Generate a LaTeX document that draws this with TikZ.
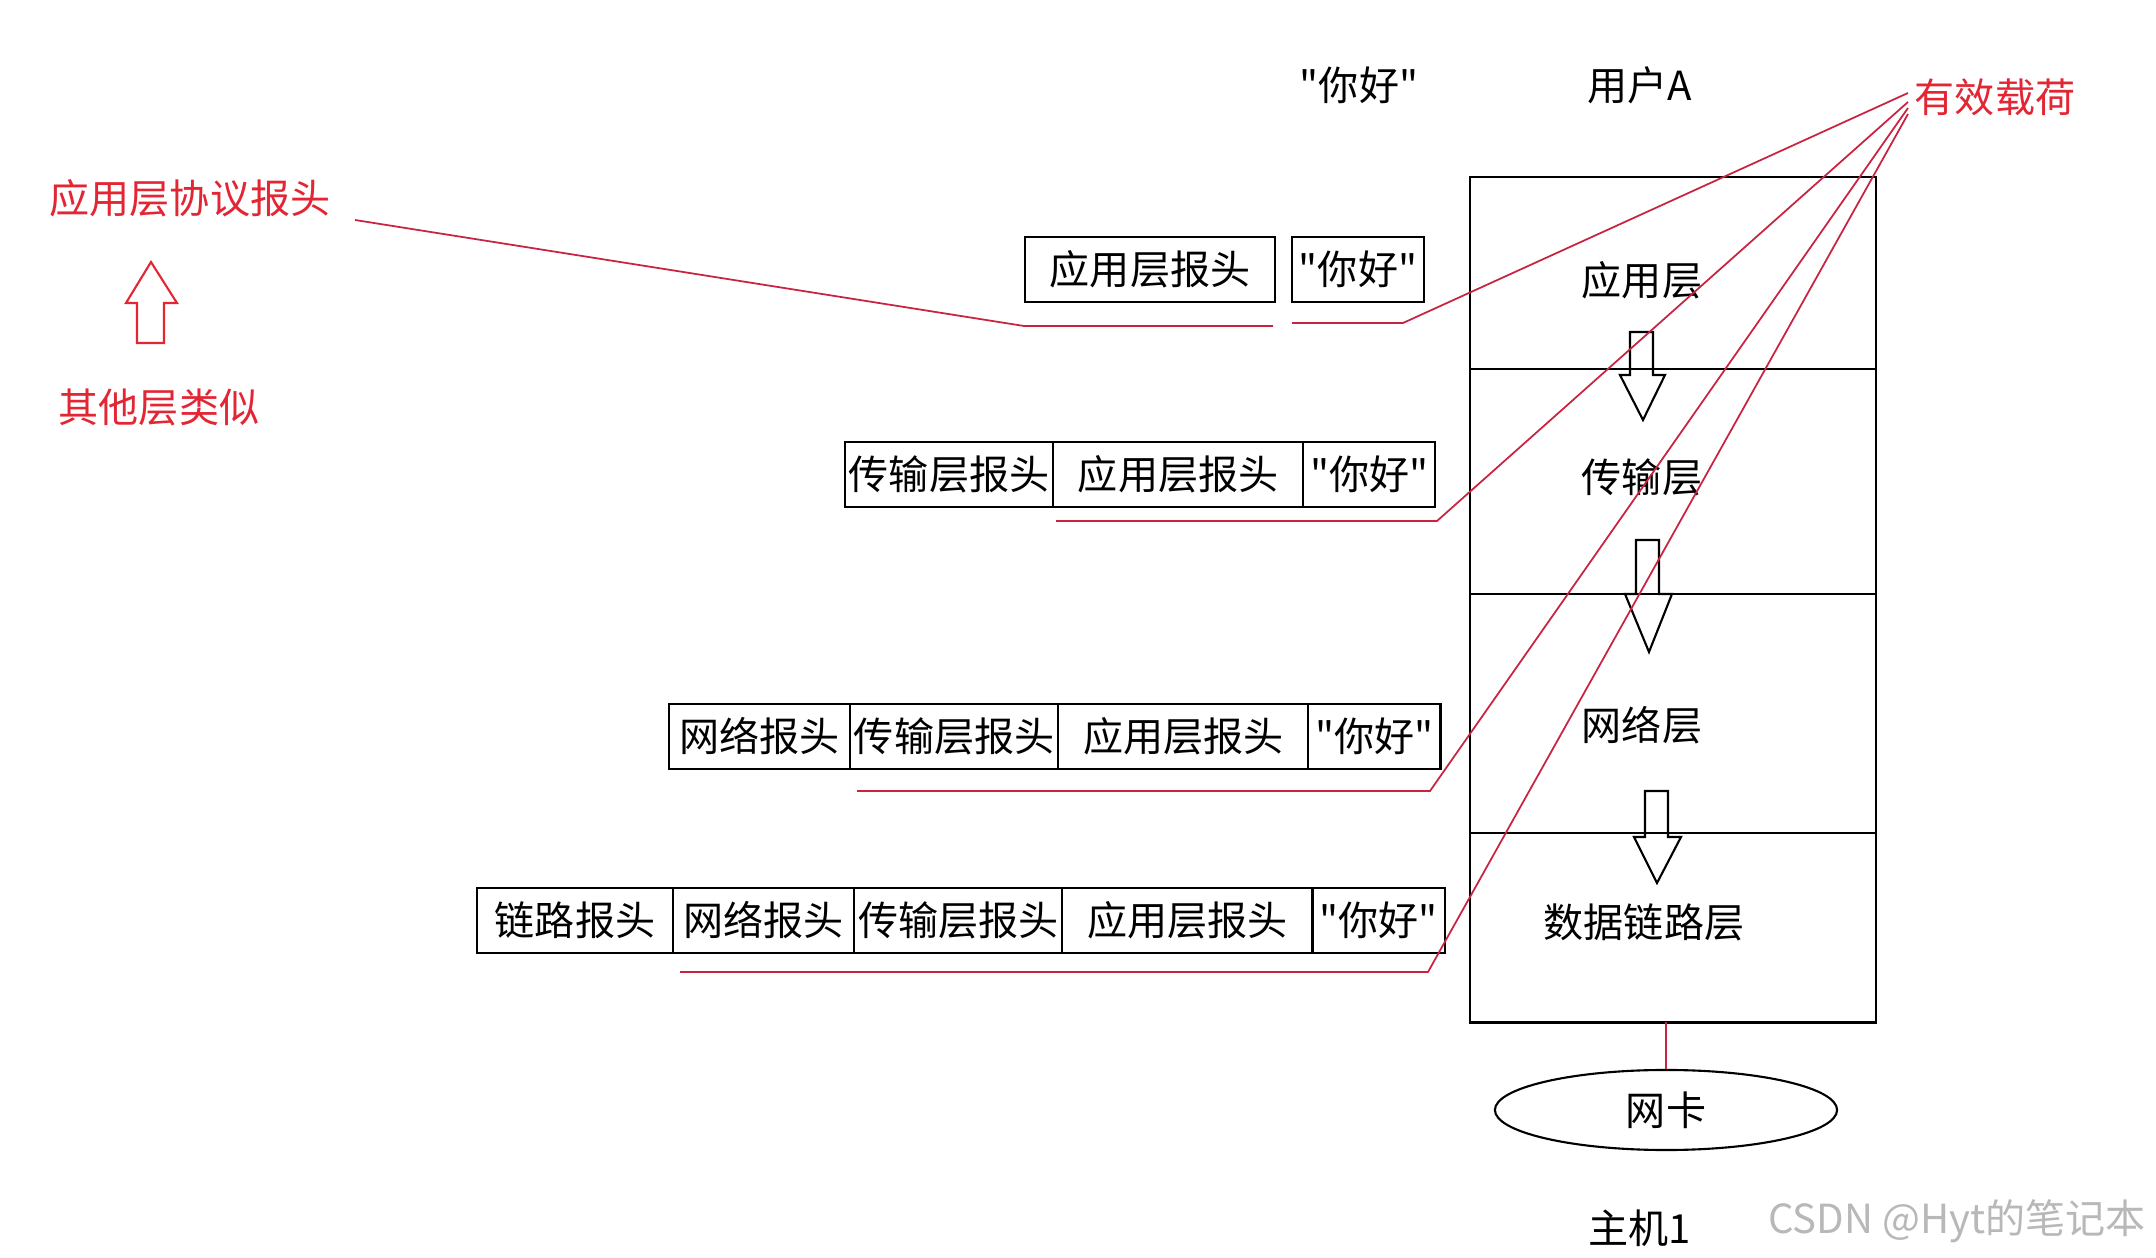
\documentclass[tikz,border=0pt]{standalone}
\usepackage{fontspec}
\setmainfont{Noto Sans CJK SC}[Ligatures=TeXOff]
\usetikzlibrary{positioning,shapes.geometric}
\definecolor{notered}{RGB}{226,38,52}
\definecolor{linered}{RGB}{200,36,66}
\tikzset{
  hdr/.style={draw, line width=0.6pt, minimum height=0.65cm, inner sep=0pt, outer sep=0pt, anchor=north west},
  wlink/.style={hdr, minimum width=1.96cm},
  wnet/.style={hdr, minimum width=1.81cm},
  wtrans/.style={hdr, minimum width=2.08cm},
  wapp/.style={hdr, minimum width=2.50cm},
  whello/.style={hdr, minimum width=1.32cm},
  layer/.style={draw, line width=0.6pt, minimum width=4.06cm, inner sep=0pt, outer sep=0pt, anchor=north west},
  note/.style={text=notered},
  redline/.style={draw=linered, line width=0.5pt},
  hollow/.style={draw, line width=0.6pt}
}

\begin{document}
\begin{tikzpicture}[x=0.01cm, y=-0.01cm, every node/.style={font=\fontsize{11.4pt}{13pt}\selectfont}]
  \useasboundingbox (0,0) rectangle (2156,1258);
  \node (hello) at (1359,85) {"你好"};
  \node (user) at (1640,85) {用户A};
  \node[note] (payload) at (1995,97) {有效载荷};
  \node[note] (proto) at (190,198) {应用层协议报头};
  \node[note] (other) at (159,407) {其他层类似};
  \draw[hollow, draw=notered] (137,343) -- (137,303) -- (126,303) -- (151,262) -- (177,303) -- (164,303) -- (164,343) -- cycle;

  \node[layer, minimum height=1.92cm] (app) at (1470,177) {};
  \node[layer, minimum height=2.25cm, below=0pt of app] (trans) {};
  \node[layer, minimum height=2.39cm, below=0pt of trans] (net) {};
  \node[layer, minimum height=1.89cm, below=0pt of net] (link) {};
  \node (appL) at (1642,280) {应用层};
  \node (transL) at (1642,477) {传输层};
  \node (netL) at (1642,725) {网络层};
  \node (linkL) at (1644,922) {数据链路层};
  \draw[hollow] (1630,332) -- (1630,375) -- (1620,375) -- (1643,420) -- (1665,375) -- (1653,375) -- (1653,332) -- cycle;
  \draw[hollow] (1636,540) -- (1636,594) -- (1625,594) -- (1649,652) -- (1672,594) -- (1659,594) -- (1659,540) -- cycle;
  \draw[hollow] (1645,791) -- (1645,837) -- (1634,837) -- (1657,883) -- (1681,837) -- (1668,837) -- (1668,791) -- cycle;
  \node[ellipse, draw, line width=0.6pt, minimum width=3.42cm, minimum height=0.8cm, inner sep=0pt] (nic) at (1666,1110) {网卡};
  \node (host) at (1640,1228) {主机1};
  \node[text=black!28] (wm) at (1957,1221) {CSDN @Hyt的笔记本};

  \node[wapp] (r1app) at (1025,237) {应用层报头};
  \node[whello] (r1hi) at (1292,237) {"你好"};

  \node[wtrans] (r2trans) at (845,442) {传输层报头};
  \node[wapp, right=0pt of r2trans] (r2app) {应用层报头};
  \node[whello, right=0pt of r2app] (r2hi) {"你好"};

  \node[wnet] (r3net) at (669,704) {网络报头};
  \node[wtrans, right=0pt of r3net] (r3trans) {传输层报头};
  \node[wapp, right=0pt of r3trans] (r3app) {应用层报头};
  \node[whello, right=0pt of r3app] (r3hi) {"你好"};

  \node[wlink] (r4link) at (477,888) {链路报头};
  \node[wnet, right=0pt of r4link] (r4net) {网络报头};
  \node[wtrans, right=0pt of r4net] (r4trans) {传输层报头};
  \node[wapp, right=0pt of r4trans] (r4app) {应用层报头};
  \node[whello, right=0pt of r4app] (r4hi) {"你好"};

  \coordinate (p0) at (355,220);
  \coordinate (u1a) at (1024,326);
  \coordinate (u1b) at (1273,326);
  \coordinate (u1c) at (1292,323);
  \coordinate (u1d) at (1403,323);
  \coordinate (u2a) at (1056,521);
  \coordinate (u2b) at (1437,521);
  \coordinate (u3a) at (857,791);
  \coordinate (u3b) at (1430,791);
  \coordinate (u4a) at (680,972);
  \coordinate (u4b) at (1428,972);
  \coordinate (pl1) at (1908,93);
  \coordinate (pl2) at (1908,102);
  \coordinate (pl3) at (1908,108);
  \coordinate (pl4) at (1908,114);
  \draw[redline] (p0) -- (u1a) -- (u1b);
  \draw[redline] (u1c) -- (u1d) -- (pl1);
  \draw[redline] (u2a) -- (u2b) -- (pl2);
  \draw[redline] (u3a) -- (u3b) -- (pl3);
  \draw[redline] (u4a) -- (u4b) -- (pl4);
  \draw[redline] (nic.north) -- (nic.north |- link.south);
\end{tikzpicture}
\end{document}
